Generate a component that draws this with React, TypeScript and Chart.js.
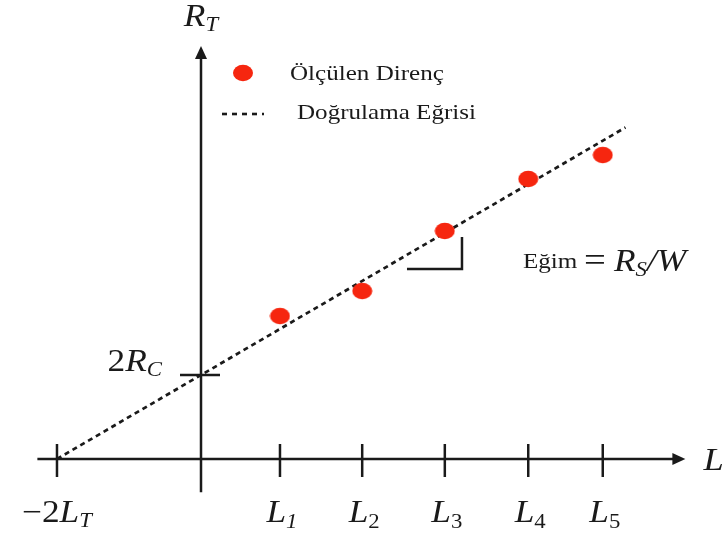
import React, { useEffect, useRef } from 'react';
import { Chart, registerables } from 'chart.js';
Chart.register(...registerables);

// ---- data ----
const tickNames = ['1', '2', '3', '4', '5'];
const lengths = [0.975, 1.99, 3.01, 4.04, 4.96];
const measured = [1.765, 2.074, 2.815, 3.457, 3.753];
const contactIntercept = 1.037; // 2R_C
const transferIntercept = -1.778; // -2L_T
const fitEnd = 5.24;
const slopeGuideX = [2.543, 3.222, 3.222];
const slopeGuideY = [2.346, 2.346, 2.741];
const xRange = [-2.4815, 6.4938];
const yRange = [-0.9753, 5.6667];
const xAxisExtent = [-2.02, 5.98];
const yAxisExtent = [-0.41, 5.1];

const legendLabels = ['Ölçülen Direnç', 'Doğrulama Eğrisi'];

const RED = '#f6260f';
const INK = '#1a1a1a';
const SX = 1.14;

type Run = { t: string; size: number; italic?: boolean; dy?: number };
const fontOf = (r: Run) => `${r.italic ? 'italic ' : ''}${r.size}px "Liberation Serif", "Times New Roman", serif`;

function drawRuns(ctx: CanvasRenderingContext2D, runs: Run[], x: number, y: number, align: 'left' | 'center' | 'right') {
  const widths = runs.map((r) => {
    ctx.font = fontOf(r);
    return ctx.measureText(r.t).width;
  });
  const total = widths.reduce((a, b) => a + b, 0) * SX;
  let cx = align === 'left' ? x : align === 'center' ? x - total / 2 : x - total;
  runs.forEach((r, i) => {
    ctx.save();
    ctx.translate(cx, y + (r.dy || 0));
    ctx.scale(SX, 1);
    ctx.font = fontOf(r);
    ctx.fillStyle = INK;
    ctx.textBaseline = 'alphabetic';
    ctx.textAlign = 'left';
    ctx.fillText(r.t, 0, 0);
    ctx.restore();
    cx += widths[i] * SX;
  });
}

function makeDot(): HTMLCanvasElement {
  const c = document.createElement('canvas');
  c.width = 21;
  c.height = 18;
  const g = c.getContext('2d')!;
  g.fillStyle = RED;
  g.beginPath();
  g.ellipse(10.5, 9, 10, 8.3, 0, 0, Math.PI * 2);
  g.fill();
  return c;
}

const axesPlugin = {
  id: 'tlmAxes',
  beforeDatasetsDraw(chart: any) {
    const ctx: CanvasRenderingContext2D = chart.ctx;
    const xs = chart.scales.x;
    const ys = chart.scales.y;
    const x0 = xs.getPixelForValue(0);
    const y0 = ys.getPixelForValue(0);
    ctx.save();
    ctx.strokeStyle = INK;
    ctx.fillStyle = INK;
    ctx.lineWidth = 2.5;
    // x axis
    const xl = xs.getPixelForValue(xAxisExtent[0]);
    const xr = xs.getPixelForValue(xAxisExtent[1]);
    ctx.beginPath();
    ctx.moveTo(xl, y0);
    ctx.lineTo(xr - 8, y0);
    ctx.stroke();
    ctx.beginPath();
    ctx.moveTo(xr, y0);
    ctx.lineTo(xr - 13, y0 - 6);
    ctx.lineTo(xr - 13, y0 + 6);
    ctx.closePath();
    ctx.fill();
    // y axis
    const yb = ys.getPixelForValue(yAxisExtent[0]);
    const yt = ys.getPixelForValue(yAxisExtent[1]);
    ctx.beginPath();
    ctx.moveTo(x0, yb);
    ctx.lineTo(x0, yt + 8);
    ctx.stroke();
    ctx.beginPath();
    ctx.moveTo(x0, yt);
    ctx.lineTo(x0 - 6, yt + 13);
    ctx.lineTo(x0 + 6, yt + 13);
    ctx.closePath();
    ctx.fill();
    // x ticks
    [transferIntercept, ...lengths].forEach((v) => {
      const px = xs.getPixelForValue(v);
      ctx.beginPath();
      ctx.moveTo(px, y0 - 15);
      ctx.lineTo(px, y0 + 18);
      ctx.stroke();
    });
    // y tick
    const py = ys.getPixelForValue(contactIntercept);
    ctx.beginPath();
    ctx.moveTo(x0 - 21, py);
    ctx.lineTo(x0 + 19, py);
    ctx.stroke();
    ctx.restore();
  },
  afterDraw(chart: any) {
    const ctx: CanvasRenderingContext2D = chart.ctx;
    const xs = chart.scales.x;
    const ys = chart.scales.y;
    const x0 = xs.getPixelForValue(0);
    const y0 = ys.getPixelForValue(0);
    const M = 31;
    const S = 20;
    // axis titles
    drawRuns(ctx, [{ t: 'R', size: M, italic: true }, { t: 'T', size: S, italic: true, dy: 5 }], x0, 26, 'center');
    drawRuns(ctx, [{ t: 'L', size: M + 1, italic: true }], xs.getPixelForValue(xAxisExtent[1]) + 18, y0 + 11, 'left');
    // tick labels
    const lb = y0 + 63;
    drawRuns(
      ctx,
      [{ t: '−2', size: M }, { t: 'L', size: M, italic: true }, { t: 'T', size: S, italic: true, dy: 5 }],
      xs.getPixelForValue(transferIntercept),
      lb,
      'center'
    );
    lengths.forEach((v, i) => {
      drawRuns(
        ctx,
        [{ t: 'L', size: M, italic: true }, { t: tickNames[i], size: S, italic: i === 0, dy: 6 }],
        xs.getPixelForValue(v) + 2,
        lb,
        'center'
      );
    });
    drawRuns(
      ctx,
      [{ t: '2', size: M }, { t: 'R', size: M, italic: true }, { t: 'C', size: S, italic: true, dy: 5 }],
      x0 - 39,
      ys.getPixelForValue(contactIntercept) - 4,
      'right'
    );
    // legend
    ctx.save();
    ctx.fillStyle = RED;
    ctx.beginPath();
    ctx.ellipse(243, 73, 10, 8.3, 0, 0, Math.PI * 2);
    ctx.fill();
    ctx.strokeStyle = INK;
    ctx.lineWidth = 2.6;
    ctx.setLineDash([5, 5]);
    ctx.beginPath();
    ctx.moveTo(222, 114);
    ctx.lineTo(264, 114);
    ctx.stroke();
    ctx.restore();
    drawRuns(ctx, [{ t: legendLabels[0], size: 22 }], 290, 80, 'left');
    drawRuns(ctx, [{ t: legendLabels[1], size: 22 }], 297, 119, 'left');
    // slope annotation
    drawRuns(ctx, [{ t: 'Eğim', size: 22 }], 523, 268, 'left');
    drawRuns(ctx, [{ t: '=', size: 34 }], 584, 271, 'left');
    drawRuns(
      ctx,
      [{ t: 'R', size: M, italic: true }, { t: 'S', size: S, italic: true, dy: 5 }, { t: '/W', size: M, italic: true }],
      614,
      271,
      'left'
    );
  },
};

export default function App() {
  const ref = useRef<HTMLCanvasElement>(null);
  useEffect(() => {
    document.body.style.margin = '0';
    const dot = makeDot();
    const fitData = [
      { x: transferIntercept, y: 0 },
      { x: fitEnd, y: contactIntercept * (1 - fitEnd / transferIntercept) },
    ];
    const chart = new Chart(ref.current!, {
      type: 'scatter',
      data: {
        datasets: [
          {
            label: legendLabels[0],
            data: lengths.map((x, i) => ({ x, y: measured[i] })),
            pointStyle: dot as any,
            pointRadius: 9,
            order: 0,
          },
          {
            label: legendLabels[1],
            data: fitData,
            showLine: true,
            borderColor: INK,
            borderWidth: 2.7,
            borderDash: [5, 4],
            pointRadius: 0,
            order: 1,
          },
          {
            label: 'slope',
            data: slopeGuideX.map((x, i) => ({ x, y: slopeGuideY[i] })),
            showLine: true,
            borderColor: INK,
            borderWidth: 2.5,
            pointRadius: 0,
            order: 1,
          },
        ],
      },
      options: {
        animation: false,
        responsive: false,
        devicePixelRatio: 1,
        layout: { padding: 0, autoPadding: false },
        events: [],
        plugins: { legend: { display: false }, tooltip: { enabled: false } },
        scales: {
          x: { type: 'linear', display: false, min: xRange[0], max: xRange[1] },
          y: { type: 'linear', display: false, min: yRange[0], max: yRange[1] },
        },
      },
      plugins: [axesPlugin],
    });
    return () => chart.destroy();
  }, []);
  return (
    <div style={{ position: 'absolute', left: 0, top: 0, width: 727, height: 538, background: '#fff' }}>
      <canvas ref={ref} width={727} height={538} />
    </div>
  );
}
